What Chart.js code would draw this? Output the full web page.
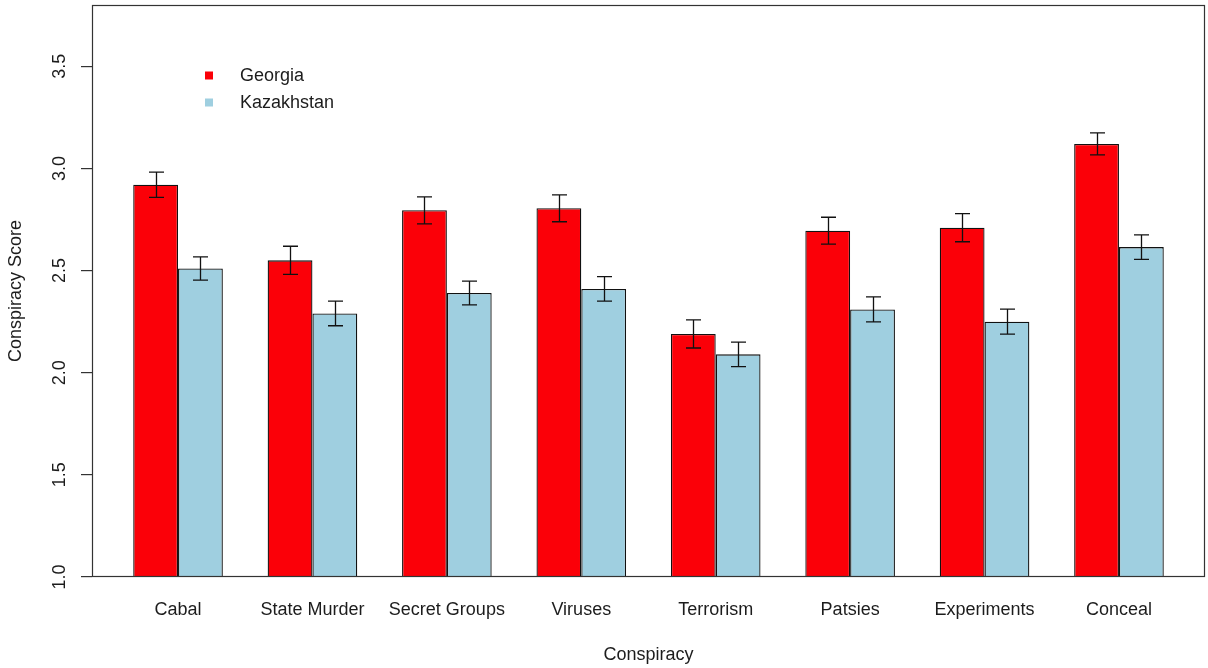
<!DOCTYPE html>
<html>
<head>
<meta charset="utf-8">
<title>Conspiracy Score by Country</title>
<script src="https://cdn.jsdelivr.net/npm/chart.js@4/dist/chart.umd.min.js"></script>
<style>
  html, body { margin: 0; padding: 0; background: #ffffff; }
  #wrap { width: 1208px; height: 668px; position: relative; }
</style>
</head>
<body>
<div id="wrap"><canvas id="chart" width="1208" height="668"></canvas></div>
<script>
// Conspiracy categories and mean scores per country
const categories = ['Cabal', 'State Murder', 'Secret Groups', 'Viruses', 'Terrorism', 'Patsies', 'Experiments', 'Conceal'];
const georgia = [2.92, 2.55, 2.795, 2.805, 2.19, 2.695, 2.71, 3.12];
const kazakhstan = [2.51, 2.29, 2.39, 2.41, 2.09, 2.31, 2.25, 2.615];
// Standard errors drawn as error bars
const georgiaErr = [0.062, 0.069, 0.066, 0.066, 0.069, 0.066, 0.069, 0.054];
const kazakhstanErr = [0.057, 0.060, 0.058, 0.060, 0.060, 0.061, 0.061, 0.060];
// Y axis tick values
const yTicks = [1.0, 1.5, 2.0, 2.5, 3.0, 3.5];
const seriesNames = ['Georgia', 'Kazakhstan'];

const RED = '#fb0008';
const BLUE = '#9fcfe0';
const INK = '#1c1c1c';
const FONT = '"Liberation Sans", Arial, Helvetica, sans-serif';

const toPoints = vals => vals.map((v, i) => ({ x: i + 1, y: v }));

// Rotated y tick labels, error bars, frame and legend
const decorations = {
  id: 'decorations',
  afterDatasetsDraw(chart) {
    const { ctx, scales: { y } } = chart;
    const errs = [georgiaErr, kazakhstanErr];
    ctx.save();
    ctx.strokeStyle = '#111';
    ctx.lineWidth = 1.3;
    chart.data.datasets.forEach((ds, di) => {
      const meta = chart.getDatasetMeta(di);
      meta.data.forEach((bar, i) => {
        const v = ds.data[i].y;
        const e = errs[di][i];
        const yt = y.getPixelForValue(v + e);
        const yb = y.getPixelForValue(v - e);
        const x = Math.round(bar.x) + 0.5;
        ctx.beginPath();
        ctx.moveTo(x, yt); ctx.lineTo(x, yb);
        ctx.moveTo(x - 7.5, yt); ctx.lineTo(x + 7.5, yt);
        ctx.moveTo(x - 7.5, yb); ctx.lineTo(x + 7.5, yb);
        ctx.stroke();
      });
    });
    ctx.restore();
  },
  afterDraw(chart) {
    const { ctx, chartArea: a, scales: { y } } = chart;
    ctx.save();
    // plot frame
    ctx.strokeStyle = '#333';
    ctx.lineWidth = 1.2;
    ctx.strokeRect(a.left + 0.5, a.top + 0.5, a.right - a.left - 1, a.bottom - a.top - 1);
    // rotated y tick labels
    ctx.fillStyle = INK;
    ctx.font = '18px ' + FONT;
    ctx.textAlign = 'center';
    ctx.textBaseline = 'middle';
    yTicks.forEach(t => {
      ctx.save();
      ctx.translate(60.5, y.getPixelForValue(t));
      ctx.rotate(-Math.PI / 2);
      ctx.fillText(t.toFixed(1), 0, 0);
      ctx.restore();
    });
    // legend
    const colors = [RED, BLUE];
    ctx.textAlign = 'left';
    seriesNames.forEach((name, i) => {
      const cy = 75.5 + i * 27;
      ctx.fillStyle = colors[i];
      ctx.fillRect(205, cy - 4, 8, 8);
      ctx.fillStyle = INK;
      ctx.fillText(name, 240, cy + 0.5);
    });
    ctx.restore();
  }
};

new Chart(document.getElementById('chart'), {
  type: 'bar',
  data: {
    datasets: [
      { label: seriesNames[0], data: toPoints(georgia), backgroundColor: RED, borderColor: '#111', borderWidth: 1.3, borderSkipped: false },
      { label: seriesNames[1], data: toPoints(kazakhstan), backgroundColor: BLUE, borderColor: '#111', borderWidth: 1.3, borderSkipped: false }
    ]
  },
  options: {
    responsive: false,
    animation: false,
    devicePixelRatio: 1,
    layout: { padding: { top: 5, right: 3, bottom: 0, left: 0 } },
    datasets: { bar: { categoryPercentage: 0.6667, barPercentage: 1.0, grouped: true } },
    plugins: { legend: { display: false }, tooltip: { enabled: false } },
    scales: {
      x: {
        type: 'linear',
        min: 0.36,
        max: 8.64,
        offset: false,
        afterBuildTicks: s => { s.ticks = categories.map((c, i) => ({ value: i + 1 })); },
        afterFit: s => { s.height = 91; },
        grid: { display: false, drawTicks: false },
        border: { display: false },
        ticks: {
          padding: 22,
          autoSkip: false,
          maxRotation: 0,
          minRotation: 0,
          color: INK,
          font: { family: FONT, size: 18 },
          callback: v => categories[v - 1] ?? ''
        },
        title: { display: true, text: 'Conspiracy', color: INK, font: { family: FONT, size: 18 }, padding: { top: 0, bottom: 2 } }
      },
      y: {
        min: 1.0,
        max: 3.8,
        afterBuildTicks: s => { s.ticks = yTicks.map(v => ({ value: v })); },
        afterFit: s => { s.width = 92; },
        grid: { drawOnChartArea: false, drawTicks: true, tickLength: 11, color: '#333', lineWidth: 1.2 },
        border: { display: false },
        ticks: { display: false },
        title: { display: true, text: 'Conspiracy Score', color: INK, font: { family: FONT, size: 18 }, padding: { top: 5.7, bottom: 0 } }
      }
    }
  },
  plugins: [decorations]
});
</script>
</body>
</html>
